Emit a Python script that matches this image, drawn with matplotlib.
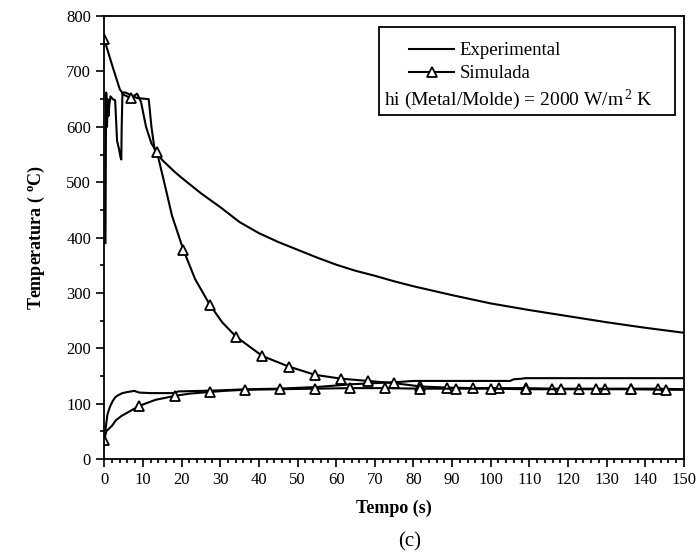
import matplotlib
matplotlib.use('Agg')
import matplotlib.pyplot as plt
from matplotlib.lines import Line2D
from matplotlib.patches import Rectangle
from matplotlib.ticker import MultipleLocator

plt.rcParams['font.family'] = ['Liberation Serif', 'DejaVu Serif']
plt.rcParams['mathtext.fontset'] = 'custom'
plt.rcParams['mathtext.rm'] = 'Liberation Serif'
plt.rcParams['mathtext.it'] = 'Liberation Serif'
plt.rcParams['mathtext.bf'] = 'Liberation Serif:bold'

# experimental - metal
exp_metal_t = [0.3, 0.4, 0.5, 0.7, 0.9, 1.1, 1.3, 1.6, 2.2, 2.8, 3.0, 3.3, 3.8, 4.2, 4.4, 4.5, 4.7,
               5.5, 7.5, 8.5, 11.5, 12.2, 13.0, 13.5, 15, 18, 20, 25, 30, 35, 40, 45, 50, 55, 60,
               65, 70, 75, 80, 90, 100, 110, 120, 130, 140, 150]
exp_metal_T = [390, 560, 662, 600, 650, 620, 640, 655, 650, 648, 620, 575, 560, 545, 541, 600, 662,
               662, 655, 652, 650, 600, 560, 554, 540, 520, 508, 480, 455, 428, 408, 392, 378, 364, 351,
               340, 331, 321, 312, 296, 281, 269, 258, 247, 237, 228]

# experimental - mold
exp_mold_t = [0.3, 0.8, 1.5, 2.2, 2.9, 3.8, 4.7, 6, 7.8, 9, 12, 18.4, 19, 25, 30, 37, 45, 55,
              64, 70, 76, 80, 105, 106, 108, 109, 150]
exp_mold_T = [52, 80, 95, 105, 112, 116, 119, 121, 123, 120, 119, 119, 122, 123, 124, 126, 127, 130,
              135, 137, 139, 141, 141, 144, 145, 146, 146]

# simulated - metal
sim_metal_t = [0, 1, 2, 3, 4, 5, 6.82, 8.5, 9.5, 10.8, 12.2, 13.64, 15.5, 17.5, 20.45, 23.5, 27.27,
               30.5, 34.09, 40.91, 47.73, 54.55, 61.36, 68.18, 75, 81.82, 88.64, 95.45, 102.27,
               109.09, 115.91, 122.73, 129.55, 136.36, 143.18, 150]
sim_metal_T = [758, 735, 712, 690, 668, 658, 652, 660, 645, 600, 570, 554, 500, 440, 378, 325, 279,
               247, 221, 186, 167, 152, 145, 141, 137, 131, 129, 128, 128, 128, 127, 127, 127, 127,
               127, 126]
sim_metal_marks = [0, 6, 11, 14, 16, 18, 19, 20, 21, 22, 23, 24, 25, 26, 27, 28, 29, 30, 31, 32, 33, 34]

# simulated - mold
sim_mold_t = [0, 0.5, 2, 3, 4.5, 6.3, 9.09, 11, 13.3, 15.5, 18.18, 22, 27.27, 31, 36.36, 45.45,
              54.55, 63.64, 72.73, 81.82, 90.91, 100, 109.09, 118.18, 127.27, 136.36, 145.45, 150]
sim_mold_T = [34, 50, 60, 70, 78, 85, 96, 101, 107, 110, 114, 118, 121, 123, 125, 126, 127, 128,
              128, 127, 127, 127, 126, 126, 126, 126, 125, 125]
sim_mold_marks = [0, 6, 10, 12, 14, 15, 16, 17, 18, 19, 20, 21, 22, 23, 24, 25, 26]

fig = plt.figure(figsize=(7, 5.56), dpi=100)
ax = fig.add_axes([0.149, 0.1745, 0.828, 0.7965])

lw = 1.5
ax.plot(exp_metal_t, exp_metal_T, color='black', lw=lw)
ax.plot(exp_mold_t, exp_mold_T, color='black', lw=lw)
ax.plot(sim_metal_t, sim_metal_T, color='black', lw=lw, marker='^', ms=7.5, mfc='white',
        mec='black', mew=1.3, markevery=sim_metal_marks)
ax.plot(sim_mold_t, sim_mold_T, color='black', lw=lw, marker='^', ms=7.5, mfc='white',
        mec='black', mew=1.3, markevery=sim_mold_marks)

ax.set_xlim(0, 150)
ax.set_ylim(0, 800)
ax.xaxis.set_major_locator(MultipleLocator(10))
ax.xaxis.set_minor_locator(MultipleLocator(2))
ax.yaxis.set_major_locator(MultipleLocator(100))
ax.yaxis.set_minor_locator(MultipleLocator(50))
ax.tick_params(which='both', direction='out', top=False, right=False, width=1.2, labelsize=12)
ax.tick_params(which='major', length=6)
ax.tick_params(which='minor', length=3)
for s in ax.spines.values():
    s.set_linewidth(1.3)

ax.set_xlabel('Tempo (s)', fontsize=13, fontweight='bold', labelpad=8)
ax.set_ylabel(r'Temperatura ( $^{\mathbf{o}}$C)', fontsize=13, fontweight='bold', labelpad=14)
fig.text(0.585, 0.018, '(c)', fontsize=15, ha='center')

# legend box
ax.add_patch(Rectangle((0.474, 0.777), 0.51, 0.198, transform=ax.transAxes, fill=False,
                       lw=1.3, ec='black', zorder=5))
handles = [Line2D([], [], color='black', lw=lw),
           Line2D([], [], color='black', lw=lw, marker='^', ms=7.5, mfc='white', mec='black', mew=1.3)]
ax.legend(handles, ['Experimental', 'Simulada'], loc='upper left', bbox_to_anchor=(0.5, 0.975),
          frameon=False, fontsize=13.5, handlelength=2.4, handletextpad=0.3, labelspacing=0.3,
          borderpad=0.3)
ax.text(0.483, 0.81, r'hi (Metal/Molde) = 2000 W/m$^{\,2}$ K', transform=ax.transAxes,
        fontsize=14, va='center', ha='left')

fig.savefig('out.png', dpi=100)
